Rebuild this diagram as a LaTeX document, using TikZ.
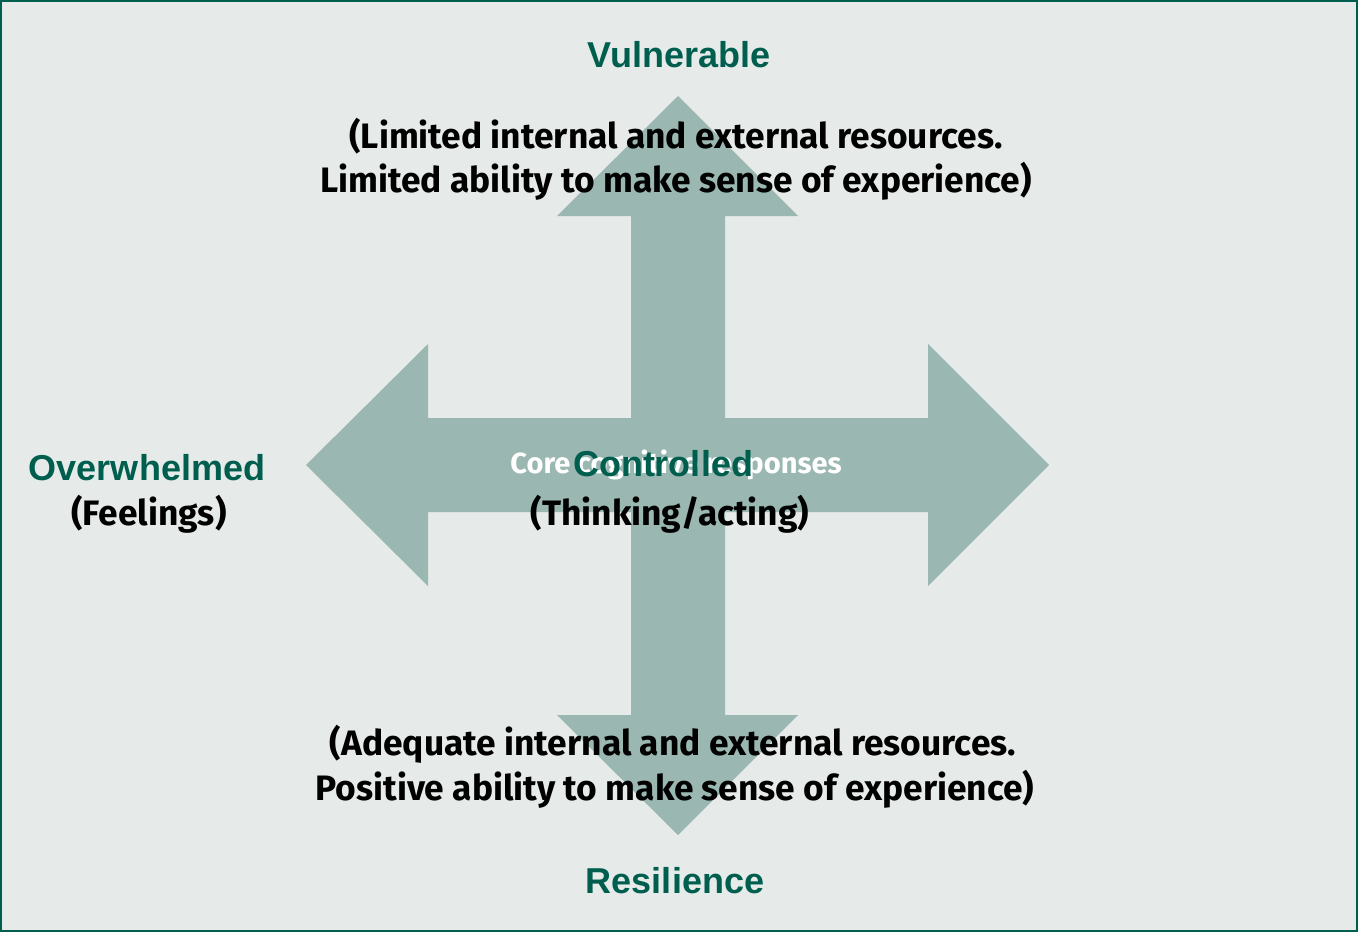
\documentclass[tikz,border=0pt]{standalone}
\usepackage{fontspec}
\setmainfont{Fira Sans}
\newfontfamily\headfont{Liberation Sans}
\usepackage{xcolor}

\definecolor{darkgreen}{HTML}{005E4E}
\definecolor{crossgrey}{HTML}{9AB8B1}
\definecolor{paper}{HTML}{E6EBE9}

\tikzset{
  heading/.style={anchor=base, text=darkgreen, font=\headfont\bfseries\fontsize{27}{30}\selectfont},
  body/.style={anchor=base, text=black, font=\bfseries\fontsize{26.5}{30}\selectfont}
}

\begin{document}
\begin{tikzpicture}[x=0.75pt, y=-0.75pt]
    \useasboundingbox (0,0) rectangle (1358,932);
    \fill[paper] (0,0) rectangle (1358,932);
    \draw[darkgreen, line width=2pt] (1,1) rectangle (1357,931);
    % the four-way arrow
    \fill[crossgrey] (678,96) -- (798,216) -- (725,216) -- (725,418) -- (928,418)
      -- (928,344) -- (1049,465) -- (928,586) -- (928,512) -- (725,512)
      -- (725,715) -- (798,715) -- (678,835) -- (557,715) -- (631,715)
      -- (631,512) -- (428,512) -- (428,586) -- (306,465) -- (428,344)
      -- (428,418) -- (631,418) -- (631,216) -- (557,216) -- cycle;
    % top
    \node[heading] (vuln) at (679,67) {Vulnerable};
    \node[body] (vulnA) at (676,148) {(Limited internal and external resources.};
    \node[body] (vulnB) at (676,192) {Limited ability to make sense of experience)};
    % centre, the two labels lie on top of each other
    \node[body, text=white, font=\bfseries\fontsize{21.8}{26}\selectfont] (core) at (676,473) {Core cognitive responses};
    \node[heading] (ctrl) at (663,476) {Controlled};
    \node[body] (think) at (670,525) {(Thinking/acting)};
    % left
    \node[heading] (over) at (147,480) {Overwhelmed};
    \node[body] (feel) at (149,525) {(Feelings)};
    % bottom
    \node[body] (resA) at (673,755) {(Adequate internal and external resources.};
    \node[body] (resB) at (675,800) {Positive ability to make sense of experience)};
    \node[heading] (resil) at (675,893) {Resilience};
\end{tikzpicture}
\end{document}
